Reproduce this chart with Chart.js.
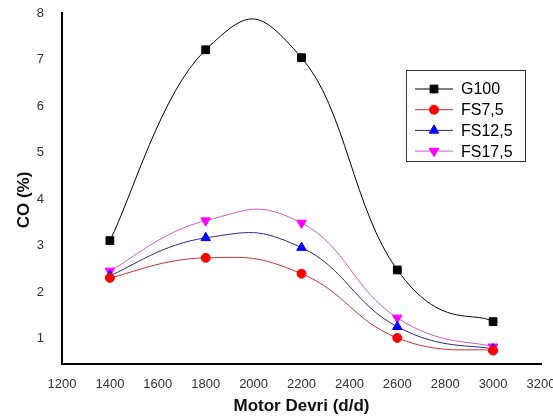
<!DOCTYPE html>
<html>
<head>
<meta charset="utf-8">
<script src="https://cdn.jsdelivr.net/npm/chart.js@4.4.1/dist/chart.umd.min.js"></script>
<style>
  html, body { margin: 0; padding: 0; background: #fff; }
</style>
</head>
<body>
<canvas id="coChart" width="553" height="418"></canvas>
<script>
// Datos: CO (%) vs Motor Devri
const rpm = [1400, 1800, 2200, 2600, 3000];
const g100 = [3.11, 7.21, 7.04, 2.48, 1.37];
const fs75 = [2.31, 2.74, 2.40, 1.02, 0.75];
const fs125 = [2.36, 3.17, 2.96, 1.26, 0.78];
const fs175 = [2.46, 3.54, 3.49, 1.45, 0.83];
const seriesNames = ['G100', 'FS7,5', 'FS12,5', 'FS17,5'];
const yTicks = [1, 2, 3, 4, 5, 6, 7, 8];

const FONT = '"Liberation Sans", Arial, sans-serif';

function pts(values) {
    return rpm.map((r, i) => ({ x: r, y: values[i] }));
}

// Suavizado tipo Excel: puntos de control uniformes a partir de los puntos ya escalados
const smoothCurve = {
    id: 'smoothCurve',
    beforeDatasetsDraw(chart) {
        const k = 0.23;
        chart.data.datasets.forEach((ds, i) => {
            const meta = chart.getDatasetMeta(i);
            const p = meta.data;
            p.forEach((pt, j) => {
                const prev = p[Math.max(j - 1, 0)];
                const next = p[Math.min(j + 1, p.length - 1)];
                const dx = next.x - prev.x, dy = next.y - prev.y;
                pt.cp1x = pt.x - k * dx; pt.cp1y = pt.y - k * dy;
                pt.cp2x = pt.x + k * dx; pt.cp2y = pt.y + k * dy;
            });
            meta.dataset._pointsUpdated = true;
        });
    }
};

// Leyenda y título del eje Y dibujados a mano
const boxLegend = {
    id: 'boxLegend',
    afterDraw(chart) {
        const ctx = chart.ctx;
        ctx.save();
        // título eje Y
        ctx.translate(24, 200);
        ctx.rotate(-Math.PI / 2);
        ctx.fillStyle = '#111';
        ctx.font = 'bold 17px ' + FONT;
        ctx.textAlign = 'center';
        ctx.textBaseline = 'middle';
        ctx.fillText('CO (%)', 0, 0);
        ctx.restore();

        ctx.save();
        ctx.strokeStyle = '#333';
        ctx.lineWidth = 1;
        ctx.strokeRect(406.5, 70.5, 119, 91);
        chart.data.datasets.forEach((ds, i) => {
            const y = 89 + i * 20.7;
            ctx.strokeStyle = ds.borderColor;
            ctx.lineWidth = 1;
            ctx.beginPath();
            ctx.moveTo(415, y);
            ctx.lineTo(453, y);
            ctx.stroke();
            ctx.fillStyle = ds.pointBackgroundColor;
            ctx.strokeStyle = ds.pointBorderColor;
            Chart.helpers.drawPoint(ctx, {
                pointStyle: ds.pointStyle,
                radius: ds.pointRadius,
                rotation: ds.pointRotation || 0,
                borderWidth: 1
            }, 434, y);
            ctx.fillStyle = '#000';
            ctx.font = '16px ' + FONT;
            ctx.textBaseline = 'middle';
            ctx.textAlign = 'left';
            ctx.fillText(ds.label, 461, y + 1);
        });
        ctx.restore();
    }
};

const commonLine = {
    borderWidth: 1,
    tension: 0.4,
    pointBorderWidth: 1,
    pointHoverRadius: 5
};

new Chart(document.getElementById('coChart'), {
    type: 'line',
    data: {
        datasets: [
            Object.assign({}, commonLine, {
                label: seriesNames[0],
                data: pts(g100),
                borderColor: '#000000',
                pointStyle: 'rect',
                pointRadius: 5.5,
                pointBackgroundColor: '#000000',
                pointBorderColor: '#000000'
            }),
            Object.assign({}, commonLine, {
                label: seriesNames[1],
                data: pts(fs75),
                borderColor: '#c83232',
                pointStyle: 'circle',
                pointRadius: 4.5,
                pointBackgroundColor: '#ff0000',
                pointBorderColor: '#ff0000'
            }),
            Object.assign({}, commonLine, {
                label: seriesNames[2],
                data: pts(fs125),
                borderColor: '#2a2a8c',
                pointStyle: 'triangle',
                pointRadius: 5.5,
                pointBackgroundColor: '#0000ff',
                pointBorderColor: '#0000ff'
            }),
            Object.assign({}, commonLine, {
                label: seriesNames[3],
                data: pts(fs175),
                borderColor: '#d05ad0',
                pointStyle: 'triangle',
                pointRotation: 180,
                pointRadius: 5.5,
                pointBackgroundColor: '#ff00ff',
                pointBorderColor: '#ff00ff'
            })
        ]
    },
    options: {
        responsive: false,
        animation: false,
        devicePixelRatio: 1,
        layout: { padding: { top: 13, right: 12, left: 0, bottom: 0 } },
        plugins: {
            legend: { display: false },
            tooltip: { enabled: false }
        },
        scales: {
            x: {
                type: 'linear',
                min: 1200,
                max: 3200,
                grid: { display: false },
                border: { display: true, color: '#000', width: 2 },
                ticks: {
                    stepSize: 200,
                    color: '#333',
                    padding: 5,
                    font: { family: FONT, size: 13 },
                    callback: v => String(v)
                },
                title: {
                    display: true,
                    text: 'Motor Devri (d/d)',
                    color: '#111',
                    font: { family: FONT, size: 17, weight: 'bold' },
                    padding: { top: 0, bottom: 1 }
                },
                afterFit(scale) {
                    scale.height = 54;
                    scale.paddingLeft = 0;
                    scale.paddingRight = 0;
                }
            },
            y: {
                min: 0.46,
                max: 8,
                grid: { display: false },
                border: { display: true, color: '#000', width: 2 },
                afterBuildTicks(scale) {
                    scale.ticks = yTicks.map(v => ({ value: v }));
                },
                ticks: {
                    color: '#333',
                    padding: 10,
                    font: { family: FONT, size: 13 }
                },
                afterFit(scale) {
                    scale.width = 62;
                    scale.paddingTop = 0;
                    scale.paddingBottom = 0;
                }
            }
        }
    },
    plugins: [smoothCurve, boxLegend]
});
</script>
</body>
</html>
